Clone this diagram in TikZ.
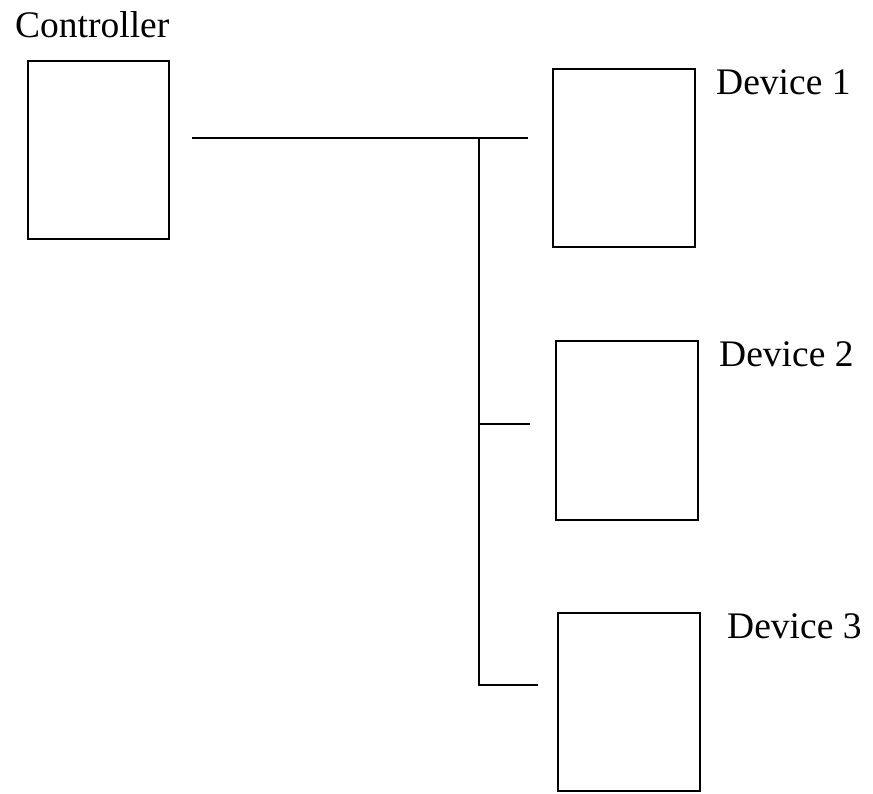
\documentclass[tikz,border=0pt]{standalone}
\usepackage{fontspec}
\setmainfont{Liberation Serif}
\begin{document}
\begin{tikzpicture}[x=1pt,y=-1pt,
  unit/.style={draw=black,line width=2pt,minimum width=141pt,minimum height=178pt,inner sep=0pt,outer sep=0pt},
  lbl/.style={anchor=base west,inner sep=0pt,font=\fontsize{37.5}{42}\selectfont},
  bus/.style={draw=black,line width=2pt}]
\useasboundingbox (0,0) rectangle (873,793);
\node[unit] (ctrl) at (98.5,150) {};
\node[unit,minimum width=142pt] (d1) at (623.5,158) {};
\node[unit,minimum width=142pt,minimum height=179pt] (d2) at (626.5,430.5) {};
\node[unit,minimum width=142pt] (d3) at (629,702) {};
\node[lbl] (lc) at (15,37) {Controller};
\node[lbl] (l1) at (716,94) {Device 1};
\node[lbl] (l2) at (719,366) {Device 2};
\node[lbl] (l3) at (727,638) {Device 3};
\coordinate (hs) at (192,138);
\coordinate (he) at (528,138);
\coordinate (j1) at (479,138);
\coordinate (j2) at (479,424);
\coordinate (e2) at (530,424);
\coordinate (j3) at (479,685);
\coordinate (e3) at (538,685);
\draw[bus] (hs) -- (he);
\draw[bus] (j1) -- (j3) -- (e3);
\draw[bus] (j2) -- (e2);
\end{tikzpicture}
\end{document}
